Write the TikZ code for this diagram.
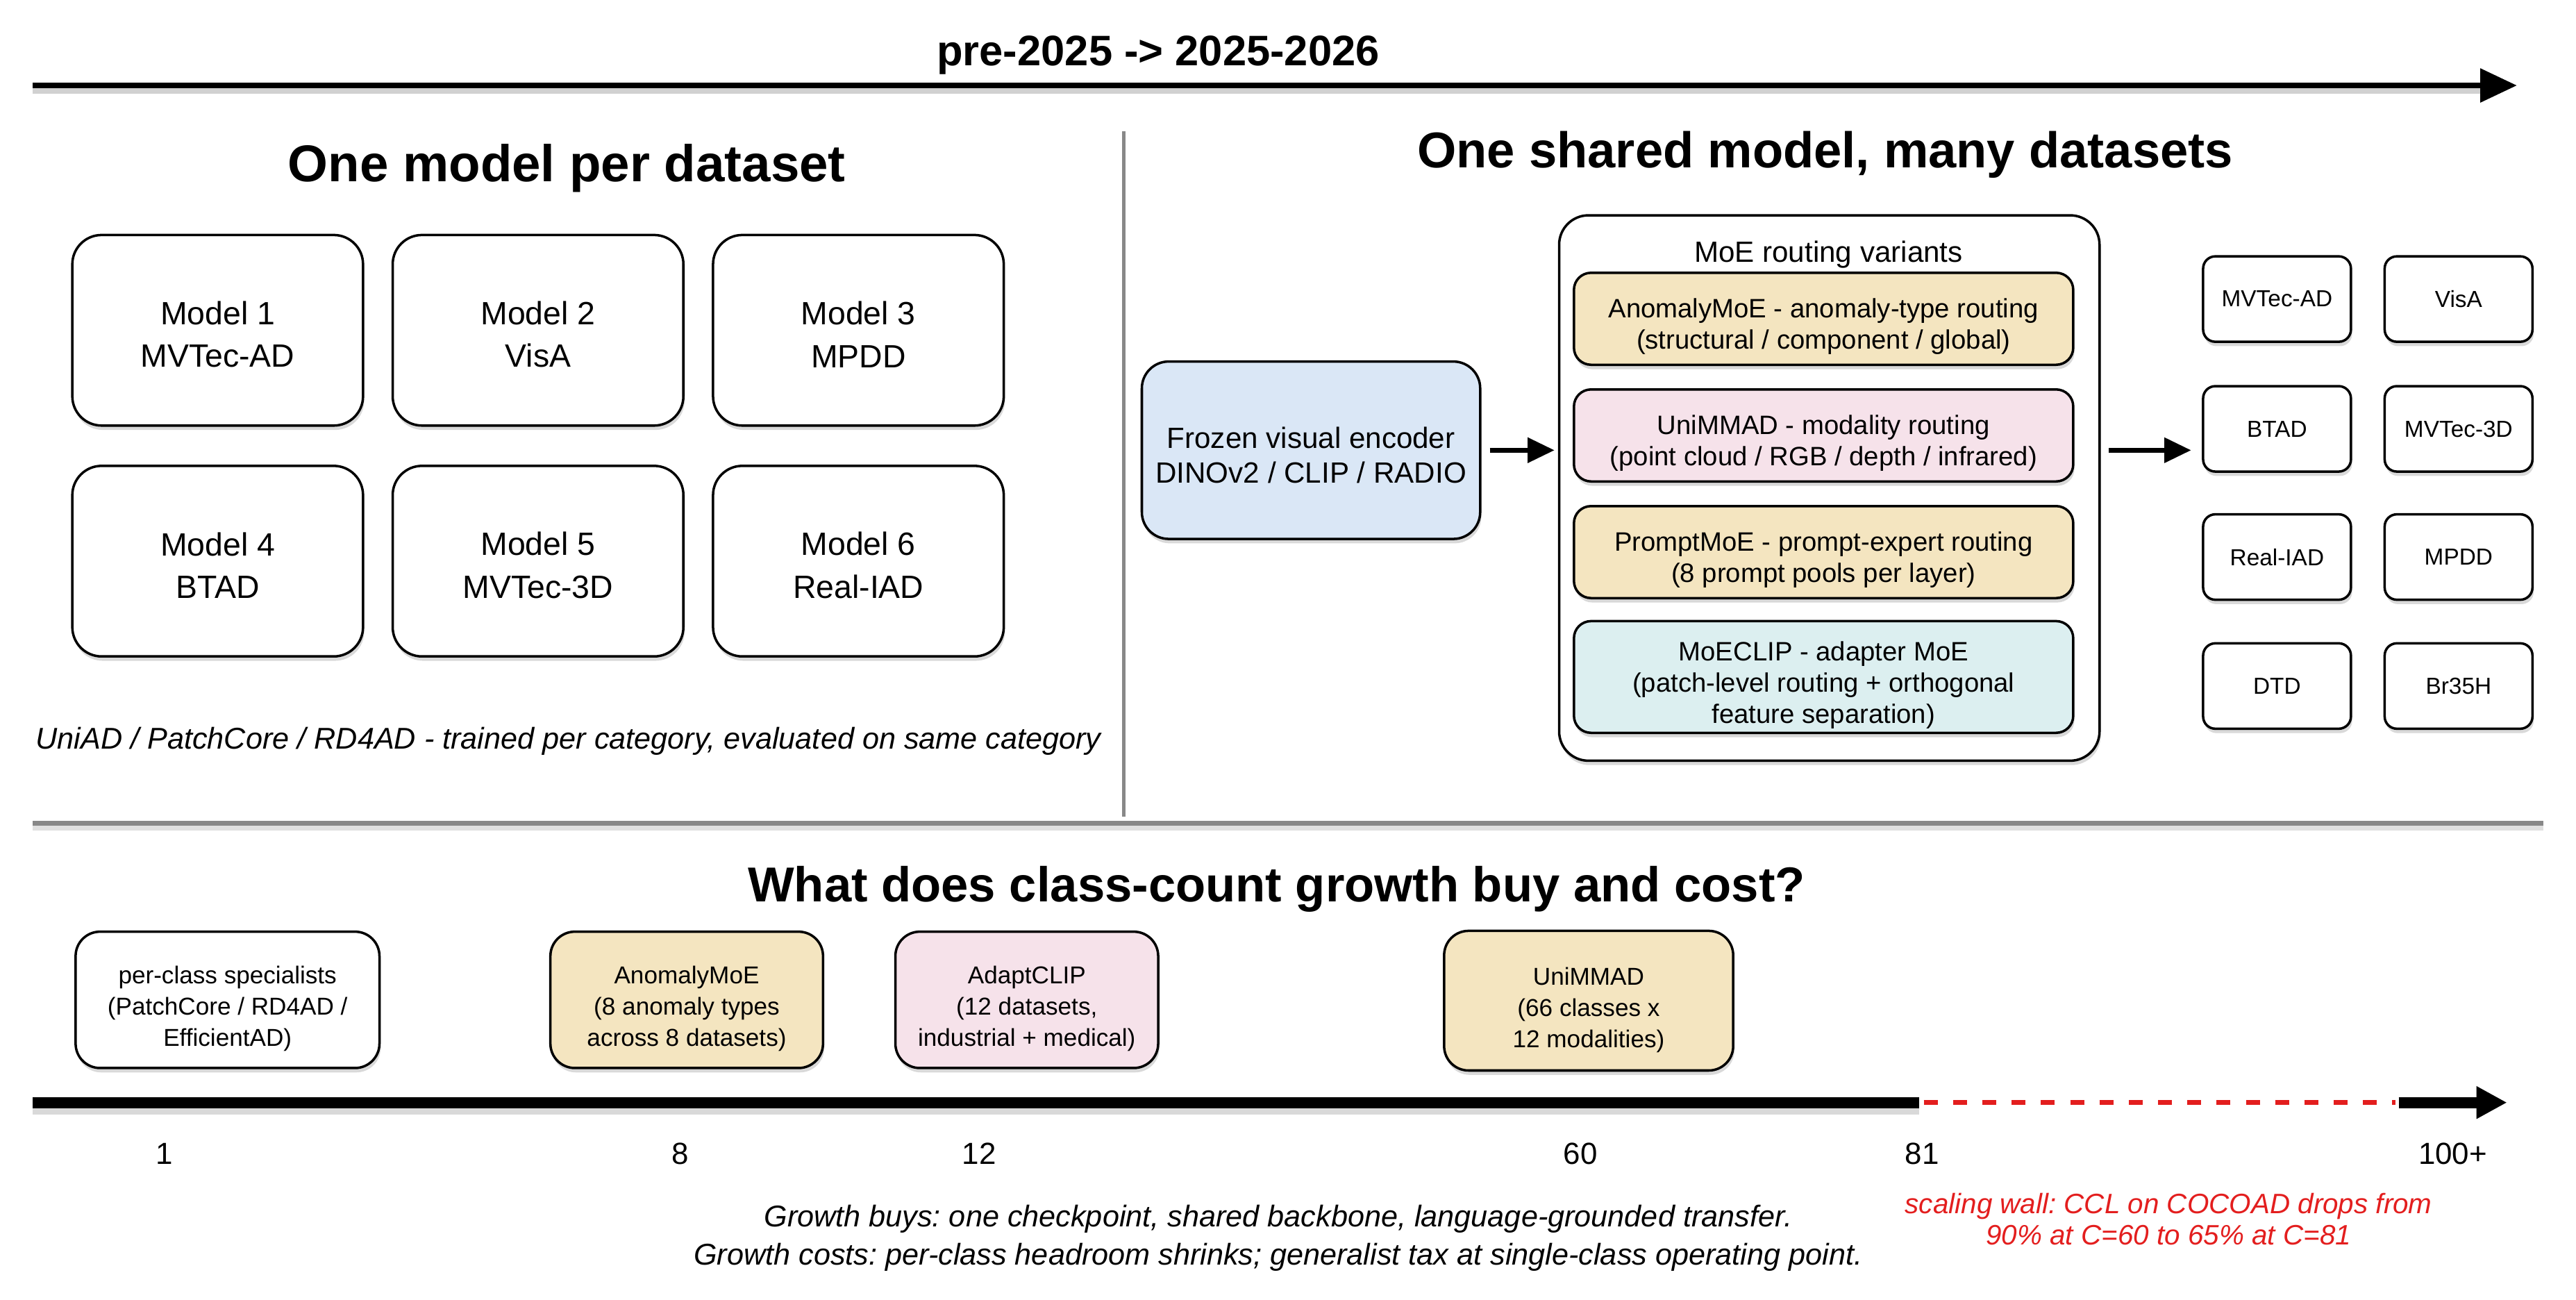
\documentclass[tikz,border=0pt]{standalone}
\usepackage{fontspec}
\setmainfont{Liberation Sans}
\usetikzlibrary{arrows.meta,shadows,calc}
\frenchspacing
\newlength\pxu \setlength\pxu{0.6732pt}
\newcommand\fs[2]{\fontsize{#1}{#2}\selectfont}
\definecolor{ctan}{HTML}{F4E5C0}
\definecolor{cpink}{HTML}{F6E2EA}
\definecolor{cblue}{HTML}{DAE7F6}
\definecolor{ccyan}{HTML}{DCEFF0}
\definecolor{cgray}{HTML}{888888}
\definecolor{cred}{HTML}{E31E1E}
\tikzset{
  shad/.style={drop shadow={shadow xshift=0.5pt, shadow yshift=-1.8pt, opacity=0.3}},
  rbox/.style={draw, line width=1pt, fill=white, rounded corners=12pt, shad, align=center, inner sep=0pt},
  txt/.style={align=center, inner sep=0pt},
  modelbox/.style={rbox, minimum width=177\pxu, minimum height=116\pxu},
  modeltxt/.style={txt, font=\fs{13.2}{17.5}},
  encbox/.style={rbox, fill=cblue, rounded corners=11pt, minimum width=206\pxu, minimum height=108\pxu},
  enctxt/.style={txt, font=\fs{12}{14.2}},
  outerbox/.style={rbox, rounded corners=12pt, minimum width=329\pxu, minimum height=332\pxu},
  varbox/.style={rbox, rounded corners=7pt, minimum width=304\pxu, minimum height=56\pxu},
  vartxt/.style={txt, font=\fs{10.9}{12.8}},
  dsbox/.style={rbox, rounded corners=5pt, minimum width=90\pxu, minimum height=52\pxu, font=\fs{9.5}{11}},
  tlbox/.style={rbox, rounded corners=10pt, minimum height=83\pxu},
  tltxt/.style={txt, font=\fs{10}{12.8}},
  heading/.style={font=\bfseries\fs{#1}{24}},
  tick/.style={font=\fs{12.5}{15}},
  arr/.style={line width=2pt, -{Triangle[length=11pt,width=10pt]}},
  lshadow/.style={black!18, line width=3pt},
}
\begin{document}
\begin{tikzpicture}[x=0.02366cm,y=-0.02366cm]
\useasboundingbox (0,0) rectangle (1568,791);

% ---------- top timeline ----------
\node[font=\bfseries\fs{17.5}{20}] (ttl) at (705,33.5) {pre-2025 -> 2025-2026};
\coordinate (t0) at (20,52);
\coordinate (t1) at (1532,52);
\draw[lshadow] ($(t0)+(0,3)$) -- ($(t1)+(-20,3)$);
\draw[line width=2.2pt, -{Triangle[length=15pt,width=13.5pt]}] (t0) -- (t1);

% ---------- dividers ----------
\coordinate (v0) at (684,80);
\coordinate (v1) at (684,497);
\coordinate (h0) at (20,501);
\coordinate (h1) at (1548,501);
\draw[black!12, line width=2pt] ($(h0)+(0,3)$) -- ($(h1)+(0,3)$);
\draw[cgray, line width=1.3pt] (v0) -- (v1);
\draw[cgray, line width=2pt] (h0) -- (h1);

% ---------- left panel ----------
\node[heading=21.2] (hl) at (345,102.5) {One model per dataset};
\node[modelbox] (m1) at (132.5,201) {};
\node[modelbox] (m2) at (327.5,201) {};
\node[modelbox] (m3) at (522.5,201) {};
\node[modelbox] (m4) at (132.5,341.5) {};
\node[modelbox] (m5) at (327.5,341.5) {};
\node[modelbox] (m6) at (522.5,341.5) {};
\node[modeltxt] (m1t) at ($(m1)+(0,2.5)$) {Model 1\\MVTec-AD};
\node[modeltxt] (m2t) at ($(m2)+(0,2.5)$) {Model 2\\VisA};
\node[modeltxt] (m3t) at ($(m3)+(0,2.5)$) {Model 3\\MPDD};
\node[modeltxt] (m4t) at ($(m4)+(0,2.5)$) {Model 4\\BTAD};
\node[modeltxt] (m5t) at ($(m5)+(0,2.5)$) {Model 5\\MVTec-3D};
\node[modeltxt] (m6t) at ($(m6)+(0,2.5)$) {Model 6\\Real-IAD};
\node[font=\itshape\fs{12.3}{15}] (capl) at (346,451) {UniAD / PatchCore / RD4AD - trained per category, evaluated on same category};

% ---------- right panel ----------
\node[heading=20.6] (hr) at (1111,94) {One shared model, many datasets};
\node[encbox] (enc) at (798,274) {};
\node[enctxt] (enct) at ($(enc)+(0,3)$) {Frozen visual encoder\\DINOv2 / CLIP / RADIO};
\node[outerbox] (moe) at (1113.5,297) {};
\node[font=\fs{12}{14}] (moet) at (1113,155) {MoE routing variants};
\node[varbox, fill=ctan] (v1b) at (1110,194) {};
\node[varbox, fill=cpink] (v2b) at (1110,265) {};
\node[varbox, fill=ctan] (v3b) at (1110,336) {};
\node[varbox, fill=ccyan, minimum height=68\pxu] (v4b) at (1110,412) {};
\node[vartxt] (v1t) at ($(v1b)+(0,4.5)$) {AnomalyMoE - anomaly-type routing\\(structural / component / global)};
\node[vartxt] (v2t) at ($(v2b)+(0,4.5)$) {UniMMAD - modality routing\\(point cloud / RGB / depth / infrared)};
\node[vartxt] (v3t) at ($(v3b)+(0,4.5)$) {PromptMoE - prompt-expert routing\\(8 prompt pools per layer)};
\node[vartxt] (v4t) at ($(v4b)+(0,5)$) {MoECLIP - adapter MoE\\(patch-level routing + orthogonal\\feature separation)};

\node[dsbox] (d1) at (1386,182) {MVTec-AD};
\node[dsbox] (d2) at (1496.5,182) {VisA};
\node[dsbox] (d3) at (1386,261) {BTAD};
\node[dsbox] (d4) at (1496.5,261) {MVTec-3D};
\node[dsbox] (d5) at (1386,339) {Real-IAD};
\node[dsbox] (d6) at (1496.5,339) {MPDD};
\node[dsbox] (d7) at (1386,417.5) {DTD};
\node[dsbox] (d8) at (1496.5,417.5) {Br35H};

\draw[arr, shorten <=3.4pt, shorten >=1.4pt] (enc.east) -- (moe.west |- enc.east);
\draw[arr, shorten <=3.4pt, shorten >=4.4pt] (moe.east |- enc.east) -- (d3.west |- enc.east);

% ---------- bottom panel ----------
\node[heading=20.1] (hb) at (777,541) {What does class-count growth buy and cost?};
\node[tlbox, minimum width=185\pxu] (b1) at (138.5,608.5) {};
\node[tlbox, fill=ctan, minimum width=166\pxu] (b2) at (418,608.5) {};
\node[tlbox, fill=cpink, minimum width=160\pxu] (b3) at (625,608.5) {};
\node[tlbox, fill=ctan, minimum width=176\pxu, minimum height=85\pxu] (b4) at (967,609) {};
\node[tltxt] (b1t) at ($(b1)+(0,5.5)$) {per-class specialists\\(PatchCore / RD4AD /\\EfficientAD)};
\node[tltxt] (b2t) at ($(b2)+(0,5.5)$) {AnomalyMoE\\(8 anomaly types\\across 8 datasets)};
\node[tltxt] (b3t) at ($(b3)+(0,5.5)$) {AdaptCLIP\\(12 datasets,\\industrial + medical)};
\node[tltxt] (b4t) at ($(b4)+(0,5.5)$) {UniMMAD\\(66 classes x\\12 modalities)};

\coordinate (a0) at (20,671);
\coordinate (a1) at (1168,671);
\coordinate (a2) at (1171,671);
\coordinate (a3) at (1458,671);
\coordinate (a4) at (1460,671);
\coordinate (a5) at (1526,671);
\draw[black!15, line width=3pt] ($(a0)+(0,5)$) -- ($(a1)+(0,5)$);
\draw[line width=4.6pt] (a0) -- (a1);
\draw[cred, line width=2pt, dash pattern=on 5.7pt off 6.3pt] (a2) -- (a3);
\draw[line width=4.6pt, -{Triangle[length=12.5pt,width=12.5pt]}] (a4) -- (a5);

\node[tick] (n1) at (100,702) {1};
\node[tick] (n8) at (414,702) {8};
\node[tick] (n12) at (596,702) {12};
\node[tick] (n60) at (962,702) {60};
\node[tick] (n81) at (1170,702) {81};
\node[tick] (n100) at (1493,702) {100+};

\node[font=\itshape\fs{12.3}{15.5}, align=center] (gb) at (778,753.5) {Growth buys: one checkpoint, shared backbone, language-grounded transfer.\\Growth costs: per-class headroom shrinks; generalist tax at single-class operating point.};
\node[font=\itshape\fs{11.5}{12.8}, text=cred, align=center] (sw) at (1320,742) {scaling wall: CCL on COCOAD drops from\\90\% at C=60 to 65\% at C=81};
\end{tikzpicture}
\end{document}
